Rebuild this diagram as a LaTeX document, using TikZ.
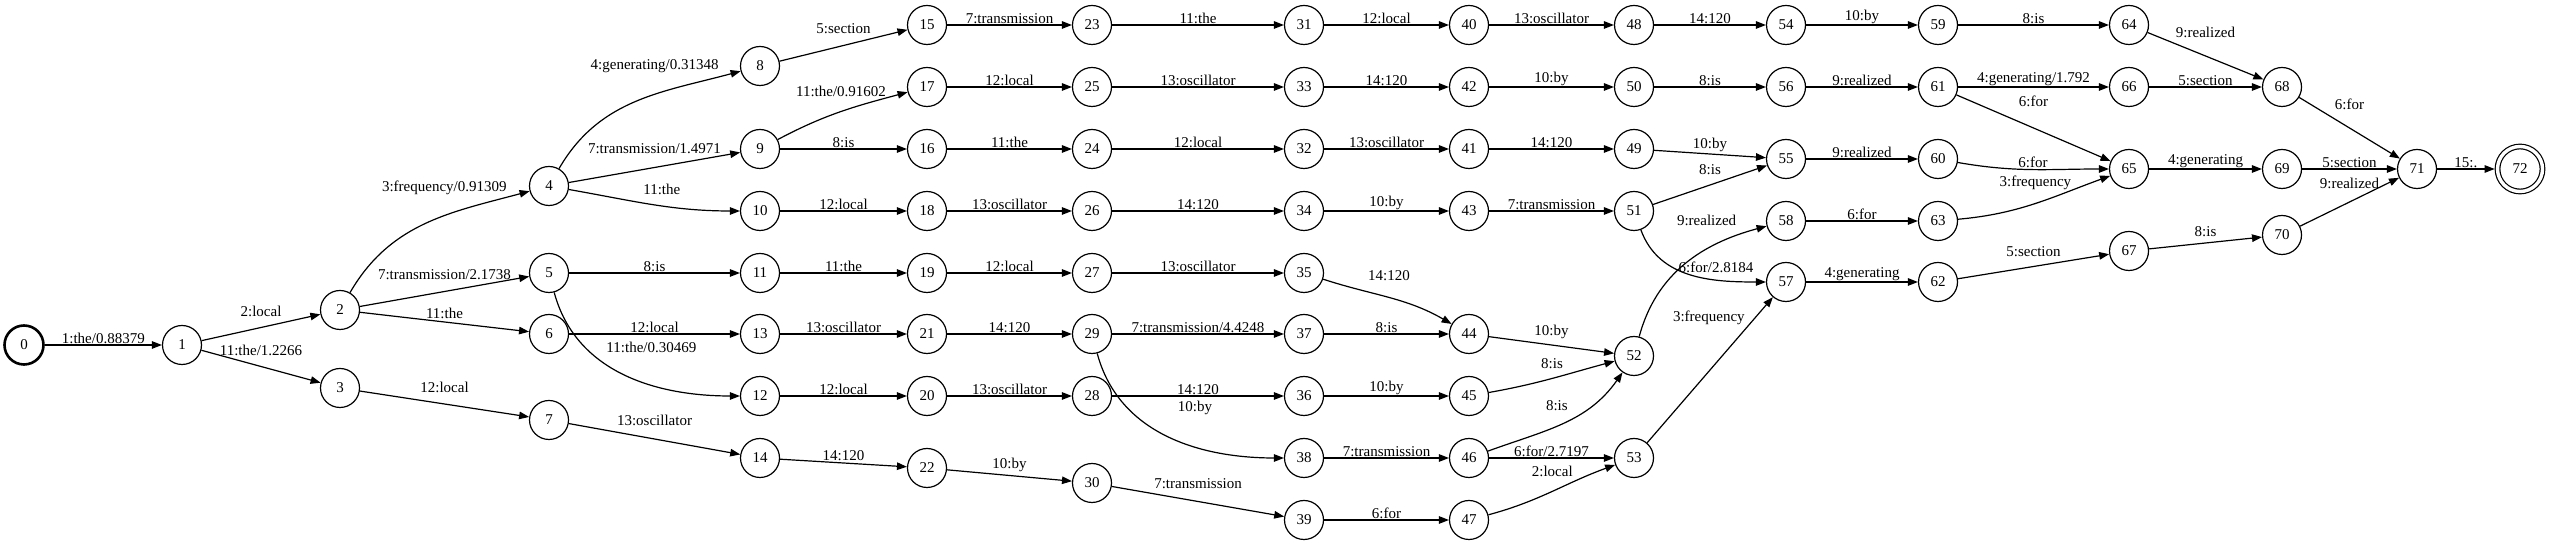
\documentclass[tikz,border=0pt]{standalone}
\usepackage{fontspec}
\setmainfont{Liberation Serif}
\usepackage{tikz}
\usetikzlibrary{arrows.meta}

\begin{document}
\begin{tikzpicture}[x=1pt, y=1pt,
			state/.style={circle, draw=black, line width=1.2pt, minimum size=39pt, inner sep=0pt,
				font=\fontsize{15}{18}\selectfont},
			start/.style={state, line width=2.6pt},
			final/.style={state, double, double distance=3.4pt, minimum size=45pt, outer sep=2.9pt},
			arr/.style={-{Triangle[length=10pt, width=7.5pt]}, draw=black, line width=1.2pt},
			lbl/.style={font=\fontsize{15}{18}\selectfont, inner sep=1pt, above}
			]
			\useasboundingbox (0,0) rectangle (2550,545);
			
			\node[start] (n0) at (24,200) {0};
			\node[state] (n1) at (182,200) {1};
			\node[state] (n2) at (340,235) {2};
			\node[state] (n3) at (340,157) {3};
			\node[state] (n4) at (549,359) {4};
			\node[state] (n5) at (549,272) {5};
			\node[state] (n6) at (549,211) {6};
			\node[state] (n7) at (549,125) {7};
			\node[state] (n8) at (760,479) {8};
			\node[state] (n9) at (760,396) {9};
			\node[state] (n10) at (760,334) {10};
			\node[state] (n11) at (760,272) {11};
			\node[state] (n12) at (760,149) {12};
			\node[state] (n13) at (760,211) {13};
			\node[state] (n14) at (760,87) {14};
			\node[state] (n15) at (927,520) {15};
			\node[state] (n16) at (927,396) {16};
			\node[state] (n17) at (927,458) {17};
			\node[state] (n18) at (927,334) {18};
			\node[state] (n19) at (927,272) {19};
			\node[state] (n20) at (927,149) {20};
			\node[state] (n21) at (927,211) {21};
			\node[state] (n22) at (927,77) {22};
			\node[state] (n23) at (1092,520) {23};
			\node[state] (n24) at (1092,396) {24};
			\node[state] (n25) at (1092,458) {25};
			\node[state] (n26) at (1092,334) {26};
			\node[state] (n27) at (1092,272) {27};
			\node[state] (n28) at (1092,149) {28};
			\node[state] (n29) at (1092,211) {29};
			\node[state] (n30) at (1092,62) {30};
			\node[state] (n31) at (1304,520) {31};
			\node[state] (n32) at (1304,396) {32};
			\node[state] (n33) at (1304,458) {33};
			\node[state] (n34) at (1304,334) {34};
			\node[state] (n35) at (1304,272) {35};
			\node[state] (n36) at (1304,149) {36};
			\node[state] (n37) at (1304,211) {37};
			\node[state] (n38) at (1304,87) {38};
			\node[state] (n39) at (1304,25) {39};
			\node[state] (n40) at (1469,520) {40};
			\node[state] (n41) at (1469,396) {41};
			\node[state] (n42) at (1469,458) {42};
			\node[state] (n43) at (1469,334) {43};
			\node[state] (n44) at (1469,211) {44};
			\node[state] (n45) at (1469,149) {45};
			\node[state] (n46) at (1469,87) {46};
			\node[state] (n47) at (1469,25) {47};
			\node[state] (n48) at (1634,520) {48};
			\node[state] (n49) at (1634,396) {49};
			\node[state] (n50) at (1634,458) {50};
			\node[state] (n51) at (1634,334) {51};
			\node[state] (n52) at (1634,189) {52};
			\node[state] (n53) at (1634,87) {53};
			\node[state] (n54) at (1786,520) {54};
			\node[state] (n55) at (1786,386) {55};
			\node[state] (n56) at (1786,458) {56};
			\node[state] (n57) at (1786,263) {57};
			\node[state] (n58) at (1786,324) {58};
			\node[state] (n59) at (1938,520) {59};
			\node[state] (n60) at (1938,386) {60};
			\node[state] (n61) at (1938,458) {61};
			\node[state] (n62) at (1938,263) {62};
			\node[state] (n63) at (1938,324) {63};
			\node[state] (n64) at (2129,520) {64};
			\node[state] (n65) at (2129,376) {65};
			\node[state] (n66) at (2129,458) {66};
			\node[state] (n67) at (2129,294) {67};
			\node[state] (n68) at (2282,458) {68};
			\node[state] (n69) at (2282,376) {69};
			\node[state] (n70) at (2282,310) {70};
			\node[state] (n71) at (2417,376) {71};
			\node[final] (n72) at (2520,376) {72};
			
			\draw[arr] (n0) -- node[lbl] {1:the/0.88379} (n1);
			\draw[arr] (n1) -- node[lbl, above=9pt] {2:local} (n2);
			\draw[arr] (n1) -- node[lbl, above=9pt] {11:the/1.2266} (n3);
			\draw[arr] (n2) to[out=60, in=195] node[lbl, pos=0.75, above=10pt, xshift=-30pt] {3:frequency/0.91309} (n4);
			\draw[arr] (n2) -- node[lbl, above=10pt] {7:transmission/2.1738} (n5);
			\draw[arr] (n2) -- node[lbl, above=2pt] {11:the} (n6);
			\draw[arr] (n3) -- node[lbl, above=10pt] {12:local} (n7);
			\draw[arr] (n4) to[out=60, in=195] node[lbl, pos=0.6, above=20pt] {4:generating/0.31348} (n8);
			\draw[arr] (n4) -- node[lbl, above=12pt] {7:transmission/1.4971} (n9);
			\draw[arr] (n4) to[out=-10, in=180] node[lbl, pos=0.55, above=9pt] {11:the} (n10);
			\draw[arr] (n5) -- node[lbl] {8:is} (n11);
			\draw[arr] (n5) to[out=-75, in=180] node[lbl, pos=0.63, above=30pt] {11:the/0.30469} (n12);
			\draw[arr] (n6) -- node[lbl] {12:local} (n13);
			\draw[arr] (n7) -- node[lbl, above=12pt] {13:oscillator} (n14);
			
			\draw[arr] (n8) -- node[lbl, above=10pt] {5:section} (n15);
			\draw[arr] (n9) to[out=28, in=195] node[lbl, above=13pt] {11:the/0.91602} (n17);
			\draw[arr] (n9) -- node[lbl] {8:is} (n16);
			\draw[arr] (n10) -- node[lbl] {12:local} (n18);
			\draw[arr] (n11) -- node[lbl] {11:the} (n19);
			\draw[arr] (n13) -- node[lbl] {13:oscillator} (n21);
			\draw[arr] (n12) -- node[lbl] {12:local} (n20);
			\draw[arr] (n14) -- node[lbl, above=1pt] {14:120} (n22);
			
			\draw[arr] (n15) -- node[lbl] {7:transmission} (n23);
			\draw[arr] (n17) -- node[lbl] {12:local} (n25);
			\draw[arr] (n16) -- node[lbl] {11:the} (n24);
			\draw[arr] (n18) -- node[lbl] {13:oscillator} (n26);
			\draw[arr] (n19) -- node[lbl] {12:local} (n27);
			\draw[arr] (n21) -- node[lbl] {14:120} (n29);
			\draw[arr] (n20) -- node[lbl] {13:oscillator} (n28);
			\draw[arr] (n22) -- node[lbl, above=2pt] {10:by} (n30);
			
			\draw[arr] (n23) -- node[lbl] {11:the} (n31);
			\draw[arr] (n25) -- node[lbl] {13:oscillator} (n33);
			\draw[arr] (n24) -- node[lbl] {12:local} (n32);
			\draw[arr] (n26) -- node[lbl] {14:120} (n34);
			\draw[arr] (n27) -- node[lbl] {13:oscillator} (n35);
			\draw[arr] (n29) -- node[lbl] {7:transmission/4.4248} (n37);
			\draw[arr] (n28) -- node[lbl] {14:120} (n36);
			\draw[arr] (n29) to[out=-75, in=180] node[lbl, pos=0.63, above=30pt] {10:by} (n38);
			\draw[arr] (n30) -- node[lbl, above=11pt] {7:transmission} (n39);
			
			\draw[arr] (n31) -- node[lbl] {12:local} (n40);
			\draw[arr] (n33) -- node[lbl] {14:120} (n42);
			\draw[arr] (n32) -- node[lbl] {13:oscillator} (n41);
			\draw[arr] (n34) -- node[lbl] {10:by} (n43);
			\draw[arr] (n35) to[out=-18, in=150] node[lbl, above=15pt] {14:120} (n44);
			\draw[arr] (n37) -- node[lbl] {8:is} (n44);
			\draw[arr] (n36) -- node[lbl] {10:by} (n45);
			\draw[arr] (n38) -- node[lbl] {7:transmission} (n46);
			\draw[arr] (n39) -- node[lbl] {6:for} (n47);
			
			\draw[arr] (n40) -- node[lbl] {13:oscillator} (n48);
			\draw[arr] (n42) -- node[lbl] {10:by} (n50);
			\draw[arr] (n41) -- node[lbl] {14:120} (n49);
			\draw[arr] (n43) -- node[lbl] {7:transmission} (n51);
			\draw[arr] (n44) -- node[lbl, above=5pt] {10:by} (n52);
			\draw[arr] (n45) to[out=10, in=195] node[lbl, above=8pt] {8:is} (n52);
			\draw[arr] (n46) to[out=20, in=235] node[lbl, pos=0.45, above=14pt] {8:is} (n52);
			\draw[arr] (n46) -- node[lbl] {6:for/2.7197} (n53);
			\draw[arr] (n47) to[out=15, in=200] node[lbl, above=13pt] {2:local} (n53);
			
			\draw[arr] (n48) -- node[lbl] {14:120} (n54);
			\draw[arr] (n50) -- node[lbl] {8:is} (n56);
			\draw[arr] (n49) -- node[lbl, above=1pt] {10:by} (n55);
			\draw[arr] (n51) -- node[lbl, above=9pt] {8:is} (n55);
			\draw[arr] (n52) to[out=75, in=195] node[lbl, pos=0.65, above=22pt] {9:realized} (n58);
			\draw[arr] (n51) to[out=-70, in=180] node[lbl, pos=0.68, above=5pt] {6:for/2.8184} (n57);
			\draw[arr] (n53) -- node[lbl, pos=0.86, left=9pt] {3:frequency} (n57);
			
			\draw[arr] (n54) -- node[lbl] {10:by} (n59);
			\draw[arr] (n56) -- node[lbl] {9:realized} (n61);
			\draw[arr] (n55) -- node[lbl] {9:realized} (n60);
			\draw[arr] (n58) -- node[lbl] {6:for} (n63);
			\draw[arr] (n57) -- node[lbl] {4:generating} (n62);
			
			\draw[arr] (n59) -- node[lbl] {8:is} (n64);
			\draw[arr] (n61) -- node[lbl] {4:generating/1.792} (n66);
			\draw[arr] (n61) -- node[lbl, above=20pt] {6:for} (n65);
			\draw[arr] (n60) to[out=-10, in=180] node[lbl] {6:for} (n65);
			\draw[arr] (n63) to[out=5, in=200] node[lbl, above=12pt] {3:frequency} (n65);
			\draw[arr] (n62) -- node[lbl, above=8pt] {5:section} (n67);
			
			\draw[arr] (n64) -- node[lbl, above=17pt] {9:realized} (n68);
			\draw[arr] (n66) -- node[lbl] {5:section} (n68);
			\draw[arr] (n65) -- node[lbl] {4:generating} (n69);
			\draw[arr] (n67) -- node[lbl, above=5pt] {8:is} (n70);
			
			\draw[arr] (n68) -- node[lbl, above=17pt] {6:for} (n71);
			\draw[arr] (n69) -- node[lbl] {5:section} (n71);
			\draw[arr] (n70) -- node[lbl, above=12pt] {9:realized} (n71);
			\draw[arr] (n71) -- node[lbl] {15:.} (n72);
		\end{tikzpicture}
\end{document}
